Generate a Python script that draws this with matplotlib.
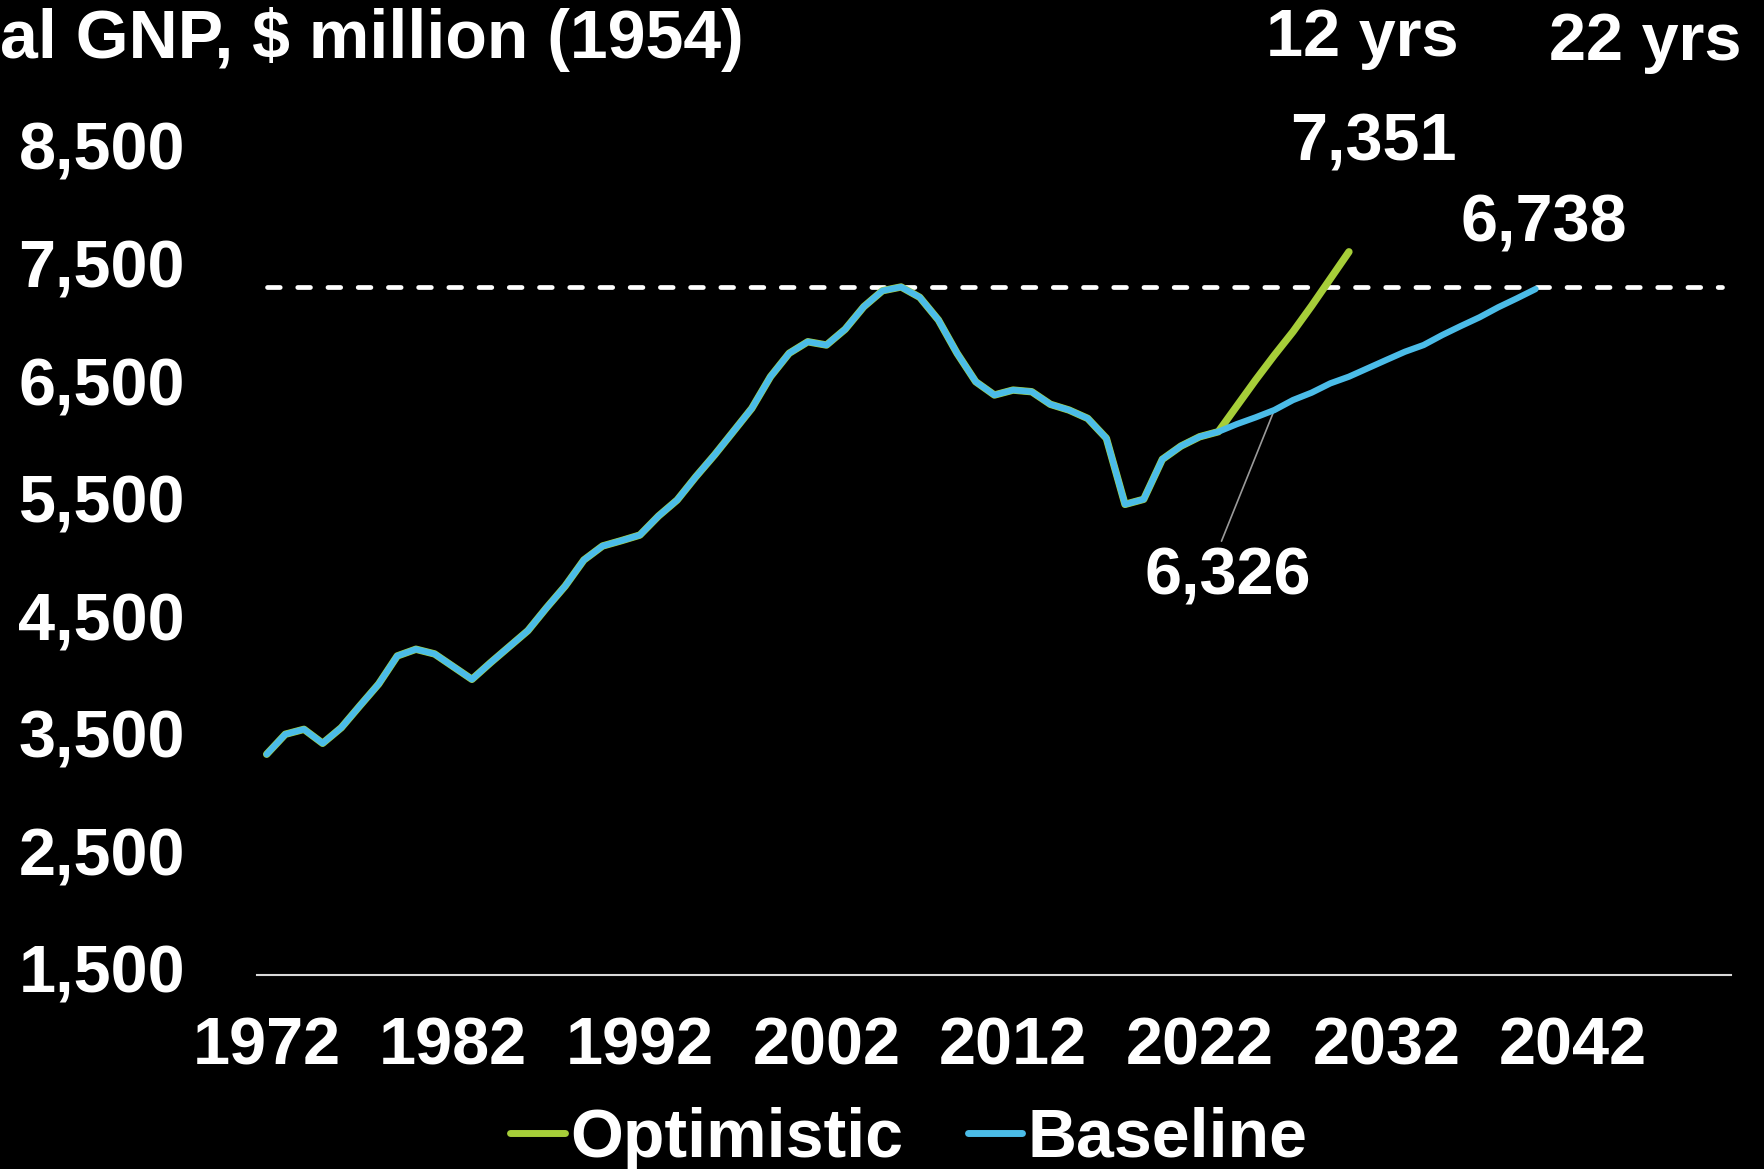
import matplotlib
matplotlib.use("Agg")
import matplotlib.pyplot as plt
import matplotlib.transforms as mtransforms
from matplotlib.lines import Line2D

plt.rcParams['font.family'] = ['Liberation Sans', 'DejaVu Sans']
plt.rcParams['font.weight'] = 'bold'

# history 1972-2022 (shared by both series)
hist_years = list(range(1972, 2023))
hist_gnp = [3377, 3547, 3589, 3470, 3603, 3790, 3974, 4213, 4270, 4230,
            4122, 4014, 4156, 4292, 4428, 4623, 4808, 5029, 5148, 5193,
            5241, 5403, 5539, 5737, 5922, 6120, 6319, 6588, 6787, 6885,
            6857, 6991, 7183, 7319, 7351, 7263, 7070, 6787, 6545, 6432,
            6474, 6460, 6353, 6304, 6233, 6064, 5502, 5545, 5885, 5998,
            6077]

# projections
base_years = list(range(2023, 2041))
base_gnp = [6120, 6185, 6242, 6304, 6389, 6452, 6531, 6588, 6659, 6730,
            6800, 6857, 6942, 7019, 7093, 7178, 7254, 7333]
opt_years = list(range(2023, 2031))
opt_gnp = [6120, 6340, 6560, 6770, 6970, 7190, 7420, 7650]

yticks = [1500, 2500, 3500, 4500, 5500, 6500, 7500, 8500]
xticks = [1972, 1982, 1992, 2002, 2012, 2022, 2032, 2042]

green = '#A6CE39'
blue = '#4BBCE8'

fig = plt.figure(figsize=(17.65, 11.69), dpi=100, facecolor='black')
ax = fig.add_axes([0.1458, 0.1660, 0.8352, 0.7041], facecolor='black')

ax.plot(hist_years + opt_years, hist_gnp + opt_gnp, color=green, lw=5.3,
        solid_capstyle='round', solid_joinstyle='round', zorder=3)
ax.plot(hist_years + base_years, hist_gnp + base_gnp, color=blue, lw=4.5,
        solid_capstyle='round', solid_joinstyle='round', zorder=4)

peak = max(hist_gnp)
ax.hlines(peak, 1972, 2050, colors='white', lw=3.4, linestyles=(0, (2.7, 3.7)),
          capstyle='round', zorder=2)

ax.set_xlim(1971.5, 2050.5)
ax.set_ylim(1500, 8500)
ax.set_xticks(xticks)
ax.set_xticklabels([str(x) for x in xticks])
ax.set_yticks(yticks)
ax.set_yticklabels([f'{v:,}' for v in yticks])
ax.tick_params(axis='y', length=0, pad=52, labelsize=48, labelcolor='white')
ax.tick_params(axis='x', length=0, pad=30, labelsize=48, labelcolor='white')
shift_up = mtransforms.ScaledTranslation(0, 0.06, fig.dpi_scale_trans)
for lab in ax.get_yticklabels():
    lab.set_transform(lab.get_transform() + shift_up)
for s in ['left', 'top', 'right']:
    ax.spines[s].set_visible(False)
ax.spines['bottom'].set_color('#d9d9d9')
ax.spines['bottom'].set_linewidth(1.5)

# value labels
ax.text(2031.3, 8570, '7,351', color='white', fontsize=48, ha='center',
        va='center', clip_on=False)
ax.text(2040.45, 7880, '6,738', color='white', fontsize=48, ha='center',
        va='center', clip_on=False)
ax.annotate('6,326', xy=(2026, base_gnp[3]), xytext=(2023.5, 4880),
            color='white', fontsize=48, ha='center', va='center',
            arrowprops=dict(arrowstyle='-', color='#9a9a9a', lw=1.2,
                            relpos=(0.45, 1.0), shrinkA=2, shrinkB=0))

fig.text(0.0, 0.9666, 'al GNP, $ million (1954)', color='white', fontsize=49,
         ha='left', va='center')
fig.text(0.7717, 0.9666, '12 yrs', color='white', fontsize=48,
         ha='center', va='center')
fig.text(0.932, 0.9632, '22 yrs', color='white', fontsize=48,
         ha='center', va='center')

handles = [Line2D([], [], color=green, lw=5, solid_capstyle='round'),
           Line2D([], [], color=blue, lw=5, solid_capstyle='round')]
leg = fig.legend(handles, ['Optimistic', 'Baseline'], loc='center',
                 bbox_to_anchor=(0.515, 0.026), ncol=2, frameon=False,
                 fontsize=49, handlelength=0.8, handletextpad=0.08,
                 columnspacing=0.95, labelcolor='white')

fig.savefig('out.png', dpi=100, facecolor='black')
